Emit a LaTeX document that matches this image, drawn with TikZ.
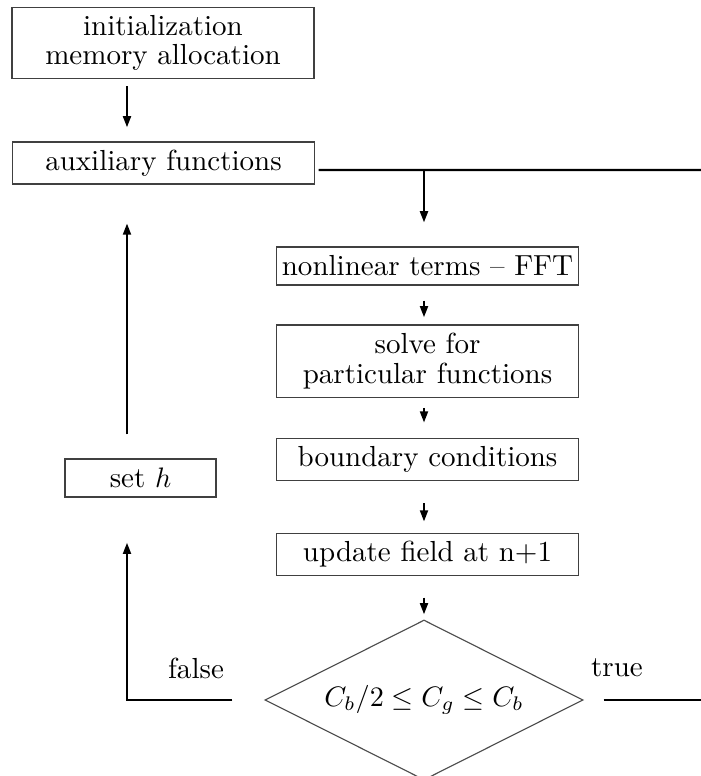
\documentclass[tikz,border=0pt]{standalone}
\usetikzlibrary{shapes.geometric,arrows.meta}
\begin{document}
\begin{tikzpicture}[x=0.355pt,y=-0.355pt,
        font=\fontsize{10.3pt}{10.4pt}\selectfont,
        box/.style={draw=black!75,line width=0.4pt,inner sep=0pt,
            minimum width=106.9pt,minimum height=15.2pt,align=center},
        arr/.style={-{Triangle[length=4pt,width=2.8pt]},line width=0.8pt},
        ln/.style={line width=0.8pt}]
\useasboundingbox (0,0) rectangle (701,776);
\coordinate (colL) at (127,0);
\coordinate (colR) at (424,0);

\node[box,minimum width=107.2pt,minimum height=25.2pt] (init) at (163,43) {initialization\\memory allocation};
\node[box,minimum height=14.9pt] (aux) at (163.5,163) {auxiliary functions};
\node[box,minimum height=13.5pt] (nonlin) at (427.5,266) {nonlinear terms -- FFT};
\node[box,minimum height=25.6pt] (solve) at (427.5,361) {solve for\\particular functions};
\node[box] (bound) at (427.5,459.5) {boundary conditions};
\node[box] (update) at (427.5,554.5) {update field at n+1};
\node[box,minimum width=53.6pt,minimum height=13.5pt] (seth) at (140.5,478) {set $h$};
\node[diamond,aspect=2,draw=black!70,line width=0.4pt,inner sep=0pt,
    minimum width=112.9pt,minimum height=56.8pt] (dec) at (424,700) {$C_b/2 \le C_g \le C_b$};
\node (lfalse) at (196,668) {false};
\node (ltrue) at (617,668) {true};

\coordinate (auxR) at (701,170);
\coordinate (trueR) at (701,700);

\draw[arr,shorten <=2.5pt,shorten >=5pt] (init.south -| colL) -- (aux.north -| colL);
\draw[ln] ([xshift=1.4pt,yshift=-2.5pt]aux.east) -- (auxR);
\draw[arr,shorten >=8.5pt] (auxR -| colR) -- (nonlin.north -| colR);
\draw[arr,shorten <=5.3pt,shorten >=2.5pt] (nonlin.south -| colR) -- (solve.north -| colR);
\draw[arr,shorten <=3.6pt,shorten >=5.3pt] (solve.south -| colR) -- (bound.north -| colR);
\draw[arr,shorten <=7.8pt,shorten >=3.9pt] (bound.south -| colR) -- (update.north -| colR);
\draw[arr,shorten <=7.5pt,shorten >=1.8pt] (update.south -| colR) -- (dec.north);
\draw[arr,shorten <=11.4pt,shorten >=16pt] (dec.west) -- (dec.west -| colL) -- (seth.south -| colL);
\draw[arr,shorten <=8.5pt,shorten >=13.8pt] (seth.north -| colL) -- (aux.south -| colL);
\draw[ln,shorten <=7.1pt] (dec.east) -- (trueR);
\end{tikzpicture}
\end{document}
